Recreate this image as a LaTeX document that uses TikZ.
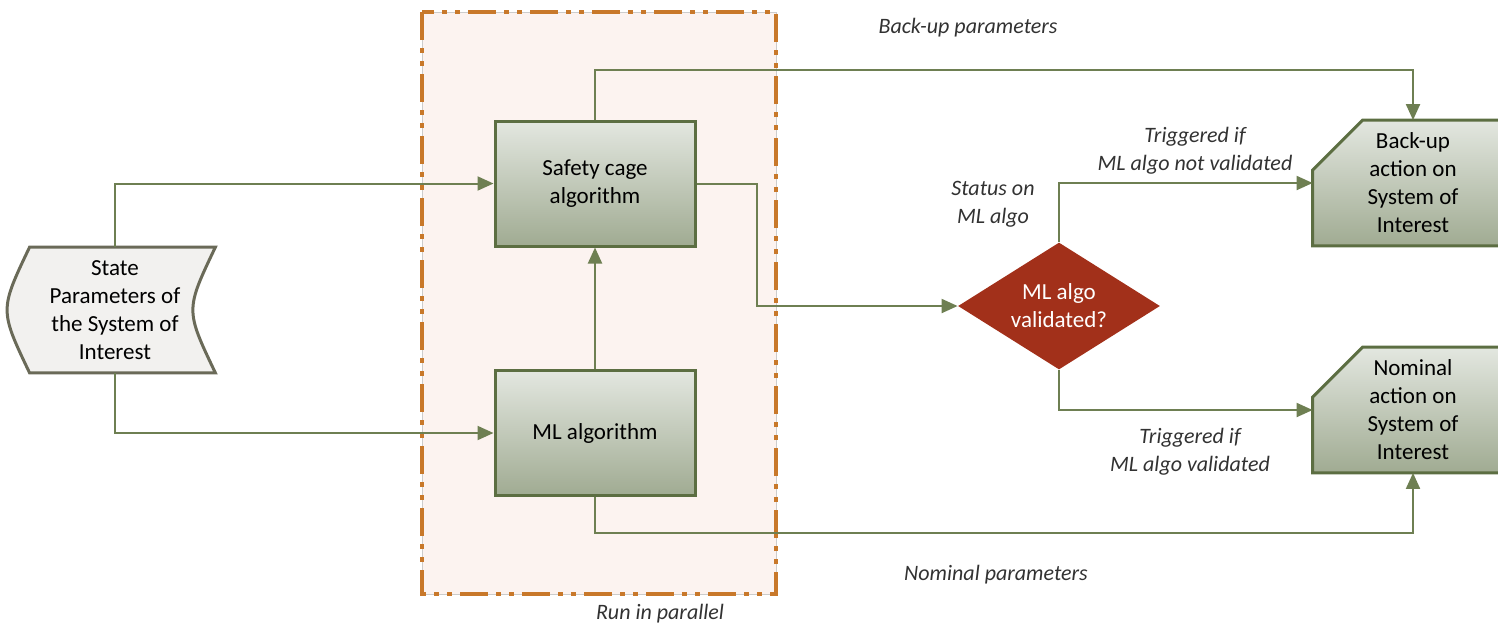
\documentclass[tikz,border=0pt]{standalone}
\usepackage{fontspec}
\setmainfont{Carlito}
\usetikzlibrary{arrows.meta,calc,shapes.geometric,backgrounds}
\definecolor{LineClr}{RGB}{110,127,82}
\definecolor{BoxClr}{RGB}{92,110,66}
\definecolor{TopClr}{RGB}{227,231,224}
\definecolor{BotClr}{RGB}{160,171,146}
\definecolor{DecClr}{RGB}{162,48,26}
\definecolor{FrameClr}{RGB}{200,120,42}
\definecolor{FrameFill}{RGB}{252,243,240}
\definecolor{StateFill}{RGB}{242,241,239}
\definecolor{StateClr}{RGB}{106,106,88}
\definecolor{TxtClr}{RGB}{50,50,50}

\tikzset{
  boxtxt/.style={minimum width=100pt,minimum height=62.5pt,align=center,inner sep=2pt,
    font=\fontsize{11.5}{14}\selectfont},
  algbox/.style={boxtxt,draw=BoxClr,line width=1.5pt,top color=TopClr,bottom color=BotClr},
  actshape/.style={draw=BoxClr,line width=1.5pt,top color=TopClr,bottom color=BotClr},
  conn/.style={draw=LineClr,line width=1pt,-{Triangle[length=8pt,width=7pt]}},
  lbl/.style={text=TxtClr,font=\fontsize{11}{14}\selectfont\itshape,align=center,inner sep=0pt}
}

\begin{document}
\begin{tikzpicture}[x=0.5pt,y=-0.5pt]
\useasboundingbox (0,0) rectangle (1498,629);

% run in parallel frame
\fill[FrameFill] (422,12) rectangle (776,594);
\draw[gray!40,line width=0.4pt] (422,12) rectangle (776,594);
\draw[FrameClr,line width=2pt,dash pattern=on 14pt off 4pt on 2.5pt off 4pt on 2.5pt off 4pt]
  (422,12) rectangle (776,594);

% nodes
\node[boxtxt,text=black] (state) at (115,310)
  {State\\Parameters of\\the System of\\Interest};
\node[algbox] (safety) at (595,183.5) {Safety cage\\algorithm};
\node[algbox] (mlalg) at (595,433) {ML algorithm};
\node[diamond,aspect=1.6,fill=DecClr,minimum width=101pt,minimum height=63.5pt,inner sep=0pt,
  text=white,align=center,font=\fontsize{11.5}{14}\selectfont] (valid) at (1059,306)
  {ML algo\\validated?};
\node[boxtxt] (backup) at (1413,183) {Back-up\\action on\\System of\\Interest};
\node[boxtxt] (nominal) at (1413,410) {Nominal\\action on\\System of\\Interest};

\begin{scope}[on background layer]
\draw[draw=StateClr,fill=StateFill,line width=1.5pt]
  ([xshift=7.5pt]state.north west) -- (state.north east)
  .. controls ([xshift=-15pt]state.east) .. (state.south east)
  -- ([xshift=7.5pt]state.south west)
  .. controls ([xshift=-7.5pt]state.west) .. cycle;
\foreach \act in {backup,nominal}
  \draw[actshape] ([yshift=-25pt]\act.north west) -- ([xshift=25pt]\act.north west)
    -- (\act.north east) -- (\act.south east) -- (\act.south west) -- cycle;
\end{scope}

% connectors
\draw[conn] (state.north) |- (safety.west);
\draw[conn] (state.south) |- (mlalg.west);
\draw[conn] (mlalg.north) -- (safety.south);
\draw[conn] (safety.north) -- ++(0,-50) -| (backup.north);
\draw[conn] (safety.east) -- ++(60,0) |- (valid.west);
\draw[conn] (valid.north) |- (backup.west);
\draw[conn] (valid.south) |- (nominal.west);
\draw[conn] (mlalg.south) -- ++(0,36) -| (nominal.south);

% labels
\node[lbl] (bkpar) at (968,28) {Back-up parameters};
\node[lbl] (nompar) at (996,575) {Nominal parameters};
\node[lbl] (runpar) at (660,614) {Run in parallel};
\node[lbl] (status) at (993,204) {Status on\\ML algo};
\node[lbl] (trignot) at (1195,151) {Triggered if\\ML algo not validated};
\node[lbl] (trigok) at (1190,452) {Triggered if\\ML algo validated};

\end{tikzpicture}
\end{document}
